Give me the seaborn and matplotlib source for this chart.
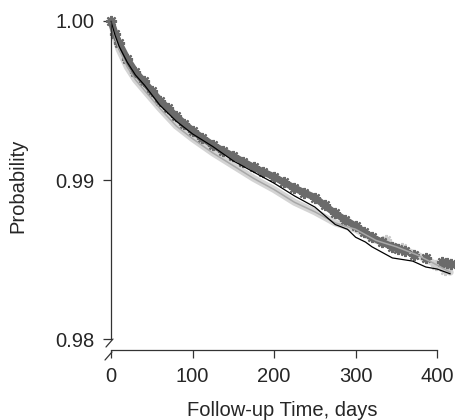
import numpy as np
import pandas as pd
import seaborn as sns
import matplotlib.pyplot as plt

sns.set_theme(style="ticks")
plt.rcParams['font.family'] = ['Liberation Sans', 'DejaVu Sans']

# black step curve
black_days = [0, 5, 10, 20, 30, 41, 60, 80, 100, 125, 150, 175, 200, 225, 250,
              275, 290, 300, 312, 320, 345, 370, 386, 400, 416]
black_surv = [1.0, 0.9991, 0.9984, 0.9974, 0.9966, 0.99597, 0.9947, 0.9937, 0.9929,
              0.9921, 0.9912, 0.9905, 0.9898, 0.9890, 0.9883, 0.9872, 0.9869, 0.9864,
              0.9861, 0.9858, 0.9851, 0.9849, 0.98453, 0.9844, 0.9841]

# dark grey asterisk curve
dark_days = [0, 5, 10, 20, 30, 40, 50, 60, 70, 80, 90, 100, 112, 125, 137, 150, 162,
             175, 187, 200, 212, 225, 237, 250, 262, 275, 287, 300, 310, 320, 332,
             345, 352, 360, 372, 386, 406, 412, 417]
dark_surv = [1.0, 0.9992, 0.9986, 0.9976, 0.9968, 0.9962, 0.9956, 0.9950, 0.9945,
             0.9940, 0.99355, 0.9931, 0.99265, 0.9922, 0.99185, 0.9915, 0.99115,
             0.9908, 0.9905, 0.9902, 0.98985, 0.9895, 0.9892, 0.9889, 0.9884, 0.9879,
             0.9875, 0.9871, 0.98675, 0.9864, 0.9861, 0.9858, 0.98565, 0.98555,
             0.98528, 0.98508, 0.98486, 0.9848, 0.98472]

# light grey curve
light_days = [0, 5, 10, 20, 30, 40, 60, 80, 100, 125, 150, 175, 200, 225, 250, 275,
              300, 325, 350, 375, 400, 416]
light_surv = [1.0, 0.9990, 0.9982, 0.9971, 0.9963, 0.9957, 0.9945, 0.9934, 0.9926,
              0.9917, 0.9909, 0.9901, 0.9894, 0.9886, 0.9880, 0.9873, 0.9869, 0.9862,
              0.9858, 0.9853, 0.98465, 0.9842]
light_mark_days = [337, 357, 398, 410]
light_mark_surv = [0.98623, 0.9857, 0.98465, 0.98434]

black = pd.DataFrame({"day": black_days, "surv": black_surv})
dark = pd.DataFrame({"day": dark_days, "surv": dark_surv})
light = pd.DataFrame({"day": light_days, "surv": light_surv})
light_marks = pd.DataFrame({"day": light_mark_days, "surv": light_mark_surv})

fig = plt.figure(figsize=(4.56, 4.2), dpi=100)
ax = fig.add_axes([111 / 456, 70 / 420, 342.5 / 456, 329 / 420])

star = (8, 2, 0)

# light grey band + markers
sns.lineplot(data=light, x="day", y="surv", ax=ax, color="#d4d4d4", lw=5,
             estimator=None, solid_capstyle="round")
sns.lineplot(data=light_marks, x="day", y="surv", ax=ax, color="#cccccc", lw=0,
             marker=star, markersize=8, markeredgewidth=1.6, markeredgecolor="#cccccc",
             estimator=None)

# dark grey band of asterisks
dense = dark[dark["day"] <= 360]
sns.lineplot(data=dense, x="day", y="surv", ax=ax, color="#6b6b6b", lw=5,
             estimator=None, solid_capstyle="round")
sns.lineplot(data=dark, x="day", y="surv", ax=ax, color="#6b6b6b", lw=0,
             marker=star, markersize=8, markeredgewidth=1.6, markeredgecolor="#6b6b6b",
             estimator=None)

# light grey centre line
sns.lineplot(data=light, x="day", y="surv", ax=ax, color="#a8a8a8", lw=1.1,
             estimator=None)

# black line
sns.lineplot(data=black, x="day", y="surv", ax=ax, color="black", lw=0.9,
             estimator=None)

ax.set_xlim(0, 420)
ax.set_ylim(0.97931, 1.0)
ax.set_xticks([0, 100, 200, 300, 400])
ax.set_yticks([0.98, 0.99, 1.00])
ax.set_yticklabels(["0.98", "0.99", "1.00"])
ax.set_xlabel("Follow-up Time, days", fontsize=14.5, labelpad=11)
ax.set_ylabel("Probability", fontsize=14.5, labelpad=20)
ax.tick_params(labelsize=14.5, length=6, width=0.9, color="#333333", pad=6)

sns.despine(ax=ax)
ax.spines["left"].set_bounds(0.98, 1.0)
ax.spines["bottom"].set_bounds(0, 400)
for s in ("left", "bottom"):
    ax.spines[s].set_linewidth(0.9)
    ax.spines[s].set_color("#333333")

# axis break marks
ax.plot([-0.0146, 0.0058], [0.0091, 0.0334], transform=ax.transAxes,
        color="#333333", lw=0.9, clip_on=False)
ax.plot([-0.0175, 0.0029], [-0.0304, -0.0061], transform=ax.transAxes,
        color="#333333", lw=0.9, clip_on=False)

for line in ax.get_lines():
    line.set_clip_on(False)

fig.savefig("out.png", dpi=100)
